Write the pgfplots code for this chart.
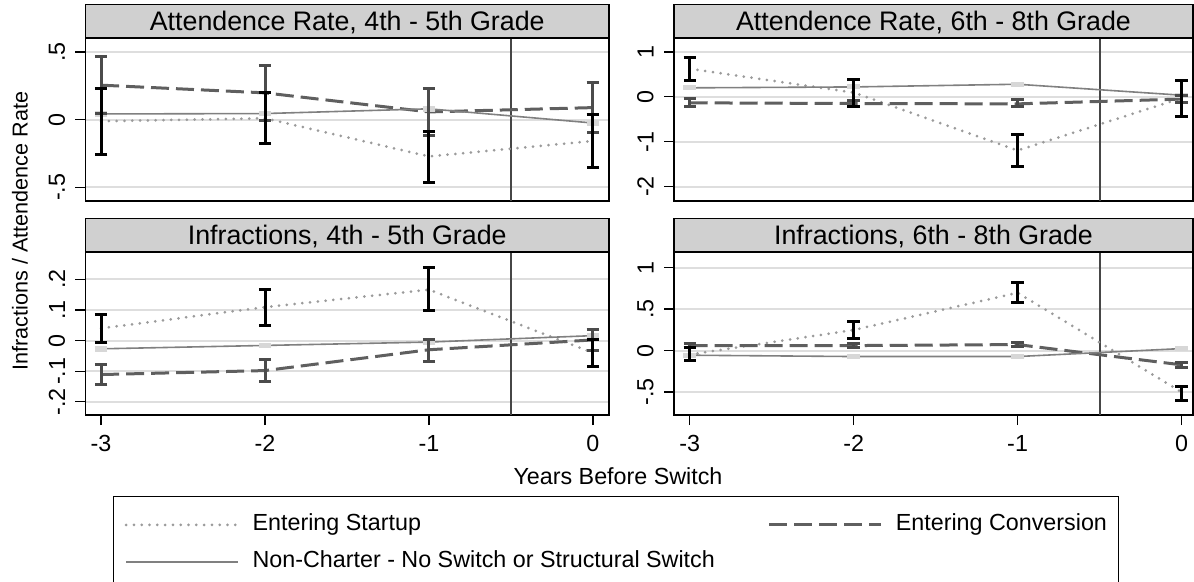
\documentclass[border=0pt]{standalone}
\usepackage{fontspec}
\setmainfont{Liberation Sans}
\usepackage{pgfplots}
\usepackage{pgfplotstable}
\pgfplotsset{compat=1.18}
\definecolor{hdr}{RGB}{208,208,208}
\definecolor{gridc}{RGB}{222,222,222}
\definecolor{startc}{RGB}{155,155,155}
\definecolor{convc}{RGB}{95,95,95}
\definecolor{convci}{RGB}{75,75,75}
\definecolor{ncc}{RGB}{128,128,128}
\definecolor{ncci}{RGB}{215,215,215}
\definecolor{vlinec}{RGB}{70,70,70}

% columns: x, startup (s, CI slo..shi), conversion (c, CI clo..chi), non-charter (n, CI nlo..nhi)
\pgfplotstableread{
x  s      slo    shi    c      clo    chi    n      nlo    nhi
-3 -0.012 -0.255 0.230  0.255  0.045  0.465  0.042  0.034  0.050
-2 0.010  -0.173 0.198  0.198  -0.005 0.403  0.045  0.037  0.053
-1 -0.272 -0.465 -0.087 0.057  -0.116 0.230  0.080  0.072  0.088
0  -0.158 -0.354 0.037  0.089  -0.094 0.272  -0.025 -0.033 -0.017
}\tabTL
\pgfplotstableread{
x  s      slo    shi    c      clo    chi    n      nlo    nhi
-3 0.625  0.373  0.873  -0.134 -0.209 -0.040 0.200  0.180  0.220
-2 0.095  -0.205 0.388  -0.149 -0.210 -0.090 0.220  0.200  0.240
-1 -1.195 -1.552 -0.843 -0.157 -0.224 -0.060 0.280  0.260  0.300
0  -0.030 -0.434 0.366  -0.050 -0.120 0.020  0.036  0.016  0.056
}\tabTR
\pgfplotstableread{
x  s      slo    shi    c      clo    chi    n      nlo    nhi
-3 0.040  -0.005 0.085  -0.111 -0.145 -0.079 -0.027 -0.031 -0.023
-2 0.109  0.049  0.168  -0.098 -0.134 -0.063 -0.016 -0.020 -0.012
-1 0.166  0.098  0.237  -0.030 -0.068 0.005  -0.005 -0.009 -0.001
0  -0.040 -0.085 0.003  0.002  -0.031 0.035  0.016  0.012  0.020
}\tabBL
\pgfplotstableread{
x  s      slo    shi    c      clo    chi    n      nlo    nhi
-3 -0.048 -0.124 0.036  0.060  0.040  0.080  -0.056 -0.066 -0.046
-2 0.248  0.144  0.356  0.060  0.040  0.080  -0.072 -0.082 -0.062
-1 0.696  0.576  0.824  0.072  0.052  0.092  -0.072 -0.082 -0.062
0  -0.500 -0.604 -0.432 -0.172 -0.200 -0.144 0.024  0.014  0.034
}\tabBR

\newcommand{\panelcontent}[3]{%
  \addplot[forget plot, color=vlinec, line width=1pt] coordinates {(-0.5,#2) (-0.5,#3)};
  \addplot[startc, line width=1.5pt, line cap=round, dash pattern=on 0pt off 3.9pt] table[x=x,y=s] {#1};
  \addplot[convc, line width=1.5pt, dash pattern=on 9pt off 3.5pt] table[x=x,y=c] {#1};
  \addplot[ncc, line width=0.8pt] table[x=x,y=n] {#1};
  \addplot[forget plot, draw=none, mark=none, error bars/.cd, y dir=both, y explicit, error mark=|,
     error bar style={draw=ncci, line width=1.6pt, solid},
     error mark options={draw=ncci, line width=1.6pt, mark size=3.2pt, solid}]
     table[x=x, y=n, y error plus expr=\thisrow{nhi}-\thisrow{n}, y error minus expr=\thisrow{n}-\thisrow{nlo}] {#1};
  \addplot[forget plot, draw=none, mark=none, error bars/.cd, y dir=both, y explicit, error mark=|,
     error bar style={draw=convci, line width=1.5pt, solid},
     error mark options={draw=convci, line width=1.5pt, mark size=3.1pt, solid}]
     table[x=x, y=c, y error plus expr=\thisrow{chi}-\thisrow{c}, y error minus expr=\thisrow{c}-\thisrow{clo}] {#1};
  \addplot[forget plot, draw=none, mark=none, error bars/.cd, y dir=both, y explicit, error mark=|,
     error bar style={draw=black, line width=1.5pt, solid},
     error mark options={draw=black, line width=1.5pt, mark size=3.1pt, solid}]
     table[x=x, y=s, y error plus expr=\thisrow{shi}-\thisrow{s}, y error minus expr=\thisrow{s}-\thisrow{slo}] {#1};
}

\pgfplotsset{
  panel/.style={
    scale only axis, height=81.5pt,
    axis line style={black, line width=0.6pt},
    every tick/.style={black, line width=0.6pt},
    tick align=outside, major tick length=5pt,
    xtick pos=bottom, ytick pos=left,
    ymajorgrids, grid style={color=gridc, line width=1pt},
    every tick label/.append style={font=\fontsize{11.65}{14}\selectfont},
    yticklabel style={rotate=90, anchor=south, inner sep=0pt},
    xticklabel style={anchor=north, inner sep=0pt},
    yticklabel shift=5pt, xticklabel shift=4.8pt,
    clip=false,
  },
  leftpanel/.style={panel, width=261.75pt, xmin=-3.095, xmax=0.098},
  rightpanel/.style={panel, width=259.5pt, xmin=-3.096, xmax=0.07},
  toppanel/.style={xtick=\empty},
  botpanel/.style={xtick={-3,-2,-1,0}, xticklabels={-3,-2,-1,0}},
}

\begin{document}
\begin{tikzpicture}
\useasboundingbox (0pt,0pt) rectangle (597pt,-291pt);

\begin{axis}[name=tl, leftpanel, toppanel, at={(42.75pt,-100.5pt)}, anchor=south west,
  ymin=-0.602, ymax=0.604, ytick={-0.5,0,0.5}, yticklabels={-.5,0,.5}]
  \panelcontent{\tabTL}{-0.602}{0.604}
\end{axis}

\begin{axis}[name=tr, rightpanel, toppanel, at={(337pt,-100.5pt)}, anchor=south west,
  ymin=-2.32, ymax=1.31, ytick={-2,-1,0,1}, yticklabels={-2,-1,0,1}]
  \panelcontent{\tabTR}{-2.32}{1.31}
\end{axis}

\begin{axis}[name=bl, leftpanel, botpanel, at={(42.75pt,-207.5pt)}, anchor=south west,
  ymin=-0.243, ymax=0.289, ytick={-0.2,-0.1,0,0.1,0.2}, yticklabels={-.2,-.1,0,.1,.2},
  legend columns=2, legend cell align=left,
  legend image code/.code={\draw[#1] (0pt,0pt) -- (56pt,0pt);},
  legend style={at={(0.052,-0.497)}, anchor=north west, draw=black, line width=0.6pt,
    inner xsep=5.65pt, inner ysep=8.8pt, row sep=7.8pt, column sep=0pt,
    font=\fontsize{11.65}{14}\selectfont,
    nodes={inner sep=0pt, text height=8.3pt, text depth=2.4pt},
    /tikz/every odd column/.append style={column sep=6.5pt},
    /tikz/column 2/.append style={column sep=26.5pt},
    /tikz/column 4/.append style={column sep=3pt}}]
  \panelcontent{\tabBL}{-0.243}{0.289}
  \legend{Entering Startup, Entering Conversion, Non-Charter - No Switch or Structural Switch}
\end{axis}

\begin{axis}[name=br, rightpanel, botpanel, at={(337pt,-207.5pt)}, anchor=south west,
  ymin=-0.776, ymax=1.187, ytick={-0.5,0,0.5,1}, yticklabels={-.5,0,.5,1}]
  \panelcontent{\tabBR}{-0.776}{1.187}
\end{axis}

\foreach \ax/\ttl in {tl/{Attendence Rate, 4th - 5th Grade}, tr/{Attendence Rate, 6th - 8th Grade},
  bl/{Infractions, 4th - 5th Grade}, br/{Infractions, 6th - 8th Grade}}{
  \draw[fill=hdr, line width=0.6pt] (\ax.north west) rectangle ([yshift=16.6pt]\ax.north east);
  \node[anchor=base, inner sep=0pt, font=\fontsize{13.4}{16}\selectfont] at ([yshift=3.5pt]\ax.north) {\ttl};
}

\node[rotate=90, font=\fontsize{10.8}{13}\selectfont] at (10pt,-115.5pt) {Infractions / Attendence Rate};
\node[font=\fontsize{11.65}{14}\selectfont] at (309pt,-238pt) {Years Before Switch};
\end{tikzpicture}
\end{document}
